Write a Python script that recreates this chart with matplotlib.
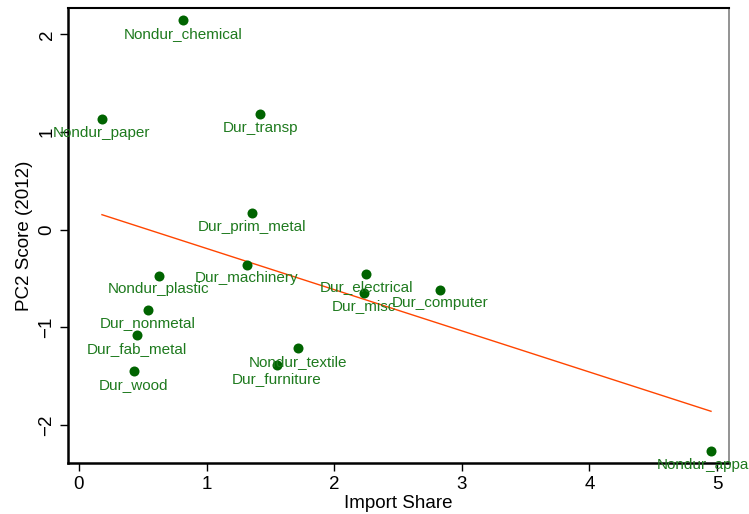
import numpy as np
import matplotlib.pyplot as plt

plt.rcParams["font.family"] = ["Liberation Sans", "DejaVu Sans"]

industries = [
    "Nondur_chemical", "Nondur_paper", "Dur_transp", "Dur_prim_metal",
    "Nondur_plastic", "Dur_machinery", "Dur_electrical", "Dur_misc",
    "Dur_computer", "Dur_nonmetal", "Dur_fab_metal", "Dur_wood",
    "Nondur_textile", "Dur_furniture", "Nondur_apparel",
]
import_share = [0.815, 0.18, 1.42, 1.356, 0.627, 1.317, 2.25, 2.233,
                2.83, 0.54, 0.455, 0.431, 1.716, 1.552, 4.953]
pc2_score = [2.15, 1.135, 1.18, 0.174, -0.47, -0.358, -0.45, -0.644,
             -0.613, -0.818, -1.084, -1.452, -1.217, -1.39, -2.27]

x = np.array(import_share)
y = np.array(pc2_score)

fig = plt.figure(figsize=(7.49, 5.14), dpi=100)
ax = fig.add_axes([0.0908, 0.0992, 0.8825, 0.8852])

slope, intercept = np.polyfit(x, y, 1)
xs = np.array([x.min(), x.max()])
ax.plot(xs, intercept + slope * xs, color="#ff4500", lw=1)

ax.scatter(x, y, s=52, color="#006400", zorder=3, linewidths=0)
for name, xi, yi in zip(industries, x, y):
    ax.annotate(name, (xi, yi), xytext=(0, -10), textcoords="offset points",
                ha="center", va="center", fontsize=11, color="#1e7a1e",
                annotation_clip=False, clip_on=False)

ax.set_xlim(-0.086, 5.094)
ax.set_ylim(-2.39, 2.27)
ax.set_xticks([0, 1, 2, 3, 4, 5])
ax.set_yticks([-2, -1, 0, 1, 2])
ax.set_yticklabels(["\u22122", "\u22121", "0", "1", "2"], rotation=90, va="center")
ax.tick_params(direction="out", length=6, width=1, labelsize=13.5, pad=3)
ax.set_xlabel("Import Share", fontsize=13.5, labelpad=2)
ax.set_ylabel("PC2 Score (2012)", fontsize=13.5, labelpad=4)

for side in ["left", "bottom"]:
    ax.spines[side].set_linewidth(1.8)
ax.spines["top"].set_linewidth(1.5)
ax.spines["right"].set_color("#808080")
ax.spines["right"].set_linewidth(1.2)

fig.savefig("out.png", dpi=100)
